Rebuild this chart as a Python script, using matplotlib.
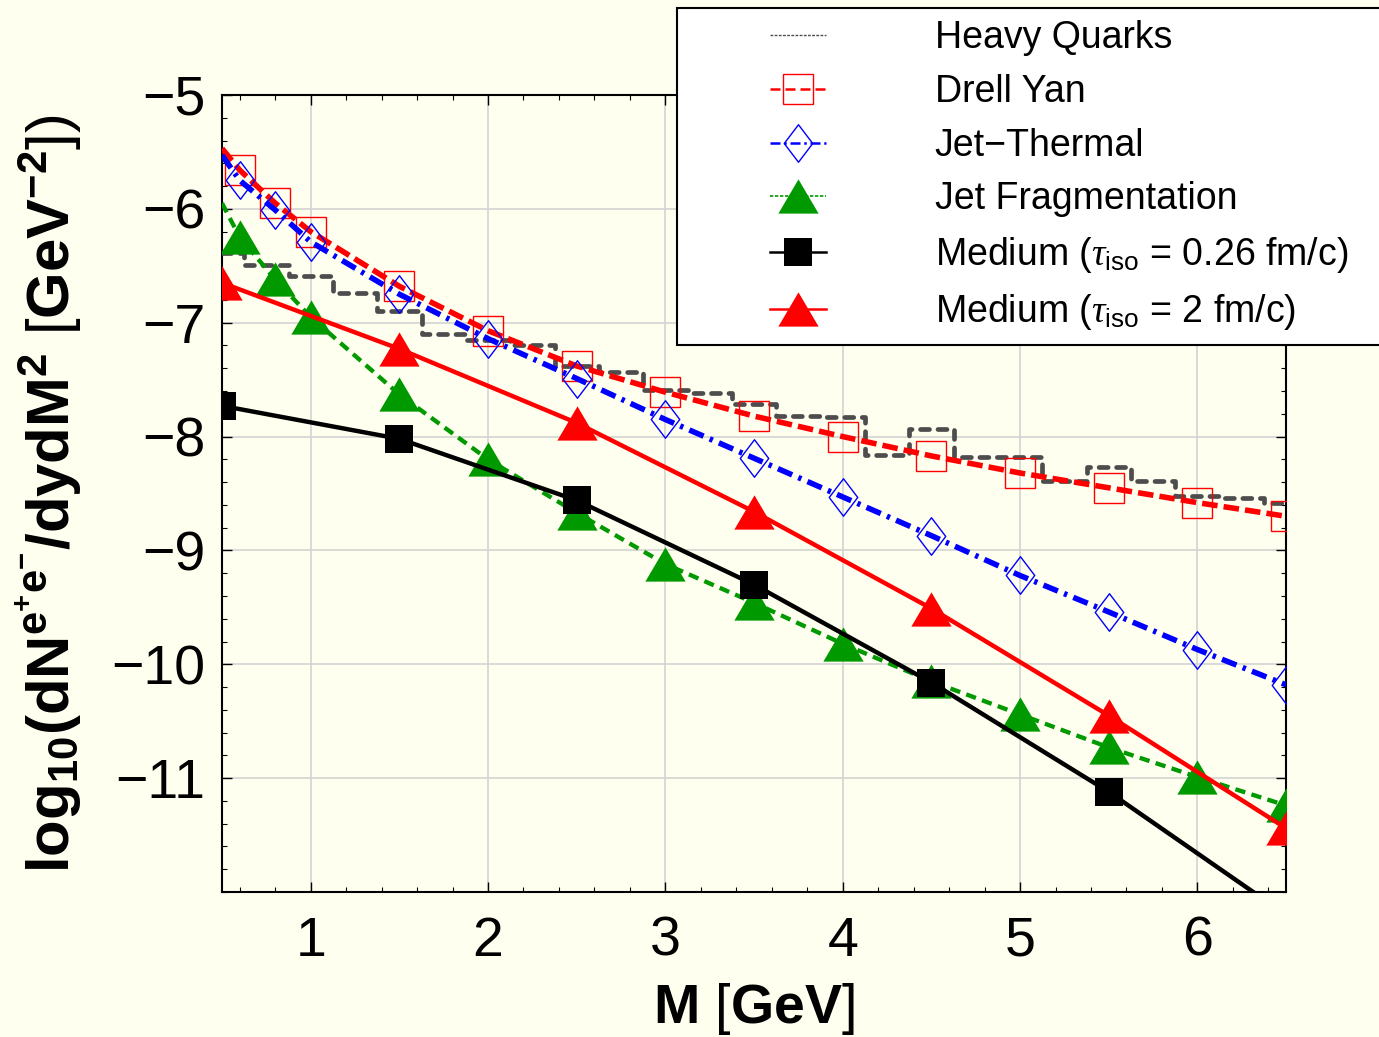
import numpy as np
import matplotlib
matplotlib.use("Agg")
import matplotlib.pyplot as plt
from matplotlib.lines import Line2D
from matplotlib.legend_handler import HandlerLine2D
from matplotlib.path import Path
from matplotlib.ticker import MultipleLocator

plt.rcParams['font.family'] = ['Liberation Sans', 'DejaVu Sans']
plt.rcParams['mathtext.fontset'] = 'custom'
plt.rcParams['mathtext.rm'] = 'Liberation Sans'
plt.rcParams['mathtext.sf'] = 'Liberation Sans'
plt.rcParams['mathtext.it'] = 'Liberation Serif:italic'
plt.rcParams['mathtext.bf'] = 'Liberation Sans:bold'

# ---------------- data ----------------
m_curve = [0.5, 0.6, 0.8, 1.0, 1.5, 2.0, 2.5, 3.0, 3.5, 4.0, 4.5, 5.0, 5.5, 6.0, 6.5]
drell_yan = [-5.47, -5.66, -5.95, -6.20, -6.68, -7.07, -7.38, -7.61, -7.82, -8.00,
             -8.17, -8.32, -8.45, -8.58, -8.70]
jet_thermal = [-5.53, -5.75, -6.01, -6.29, -6.75, -7.14, -7.49, -7.85, -8.19, -8.53,
               -8.87, -9.22, -9.54, -9.87, -10.18]
jet_frag = [-5.95, -6.25, -6.62, -6.95, -7.63, -8.20, -8.67, -9.12, -9.46, -9.82,
            -10.15, -10.44, -10.73, -10.99, -11.24]

m_medium = [0.5, 1.5, 2.5, 3.5, 4.5, 5.5, 6.5]
medium_026 = [-7.73, -8.02, -8.56, -9.30, -10.16, -11.12, -12.20]
medium_2 = [-6.65, -7.23, -7.88, -8.66, -9.51, -10.45, -11.44]

m_hq = [0.5, 0.75, 1.0, 1.25, 1.5, 1.75, 2.0, 2.25, 2.5, 2.75, 3.0, 3.25, 3.5,
        3.75, 4.0, 4.25, 4.5, 4.75, 5.0, 5.25, 5.5, 5.75, 6.0, 6.25, 6.5]
heavy_quarks = [-6.39, -6.49, -6.59, -6.74, -6.90, -7.10, -7.15, -7.20, -7.38, -7.43,
                -7.59, -7.62, -7.71, -7.82, -7.83, -8.16, -7.93, -8.18, -8.18, -8.39,
                -8.27, -8.39, -8.52, -8.54, -8.58]

x_ticks = [1, 2, 3, 4, 5, 6]
y_ticks = [-11, -10, -9, -8, -7, -6, -5]

labels = ['Heavy Quarks', 'Drell Yan', 'Jet\u2212Thermal', 'Jet Fragmentation',
          r'Medium ($\tau_{\mathrm{iso}}$ = 0.26 fm/c)    ',
          r'Medium ($\tau_{\mathrm{iso}}$ = 2 fm/c)']

# ---------------- style ----------------
BG = '#FFFFF0'
RED = '#FF0000'
BLUE = '#0000FF'
GREEN = '#009900'
GRAY = '#4D4D4D'

diamond = Path([(0, 1), (0.76, 0), (0, -1), (-0.76, 0), (0, 1)],
               [Path.MOVETO, Path.LINETO, Path.LINETO, Path.LINETO, Path.CLOSEPOLY])
tri = Path([(-1, -0.85), (1, -0.85), (0, 0.85), (-1, -0.85)],
           [Path.MOVETO, Path.LINETO, Path.LINETO, Path.CLOSEPOLY])

fig = plt.figure(figsize=(13.79, 10.37), dpi=100, facecolor=BG)
ax = fig.add_axes([0.161, 0.1398, 0.7716, 0.7686], facecolor=BG)

ax.step(m_hq, heavy_quarks, where='mid', color=GRAY, lw=3.4,
        linestyle=(0, (1.9, 1.8)), dash_capstyle='round', zorder=3)
ax.plot(m_curve, drell_yan, color=RED, lw=4.0, linestyle=(0, (2.8, 1.1)),
        marker='s', ms=21, mfc='none', mec=RED, mew=1.0, markevery=slice(1, None), zorder=4)
ax.plot(m_curve, jet_thermal, color=BLUE, lw=4.0, linestyle=(0, (2.8, 1.2, 0.6, 1.2)),
        marker=diamond, ms=27, mfc='none', mec=BLUE, mew=1.0, markevery=slice(1, None), zorder=4)
ax.plot(m_curve, jet_frag, color=GREEN, lw=3.1, linestyle=(0, (2.4, 1.5)),
        marker=tri, ms=29, mfc=GREEN, mec=GREEN, mew=0, markevery=slice(1, None), zorder=5)
ax.plot(m_medium, medium_026, color='black', lw=3.2, marker='s', ms=20.5,
        mfc='black', mec='black', mew=0, zorder=6)
ax.plot(m_medium, medium_2, color=RED, lw=3.2, marker=tri, ms=29,
        mfc=RED, mec=RED, mew=0, zorder=6)

ax.set_xlim(0.5, 6.5)
ax.set_ylim(-12, -5)
ax.set_xticks(x_ticks)
ax.set_yticks(y_ticks)
ax.xaxis.set_minor_locator(MultipleLocator(0.2))
ax.yaxis.set_minor_locator(MultipleLocator(0.2))
ax.grid(True, which='major', color='#D3D3D3', lw=1.2, zorder=0)
ax.set_axisbelow(True)
ax.tick_params(which='both', direction='in', top=True, right=True, colors='black')
ax.tick_params(which='major', length=7, width=1.0, labelsize=40)
ax.tick_params(which='minor', length=3.5, width=0.8)
ax.tick_params(axis='x', which='major', pad=17)
ax.tick_params(axis='y', which='major', pad=12)
for s in ax.spines.values():
    s.set_linewidth(1.5)
    s.set_color('black')

ax.set_xlabel(r'$\mathbf{M}$ [$\mathbf{GeV}$]', fontsize=40)
ax.xaxis.set_label_coords(0.5, -0.112)
ax.set_ylabel(r'$\mathbf{log_{10}(dN^{e^{+}e^{-}}/dydM^{2}}$ [$\mathbf{GeV^{-2}}$])', fontsize=43)
ax.yaxis.set_label_coords(-0.13, 0.5)

# legend proxies (thinner lines like the original legend)
handles = [
    Line2D([], [], color=GRAY, lw=1.0, linestyle=(0, (2, 1))),
    Line2D([], [], color=RED, lw=1.8, linestyle=(0, (4, 2)), marker='s', ms=21,
           mfc='none', mec=RED, mew=1.0),
    Line2D([], [], color=BLUE, lw=1.8, linestyle=(0, (4, 1.5, 1, 1.5)), marker=diamond,
           ms=27, mfc='none', mec=BLUE, mew=1.0),
    Line2D([], [], color=GREEN, lw=1.2, linestyle=(0, (2, 1)), marker=tri, ms=29,
           mfc=GREEN, mew=0),
    Line2D([], [], color='black', lw=1.8, marker='s', ms=20.5, mfc='black', mew=0),
    Line2D([], [], color=RED, lw=1.8, marker=tri, ms=29, mfc=RED, mew=0),
]
leg = fig.legend(handles, labels, loc='upper left',
                 bbox_to_anchor=(677 / 1379, 1 - 8 / 1037), borderaxespad=0,
                 fontsize=27, frameon=True, fancybox=False, framealpha=1,
                 facecolor='white', edgecolor='black', borderpad=0.33,
                 handlelength=3.64, handletextpad=2.9, labelspacing=0.47,
                 numpoints=1, handler_map={Line2D: HandlerLine2D(xpad=2.15)})
leg.get_frame().set_linewidth(1.5)

fig.savefig('out.png', dpi=100, facecolor=BG)
